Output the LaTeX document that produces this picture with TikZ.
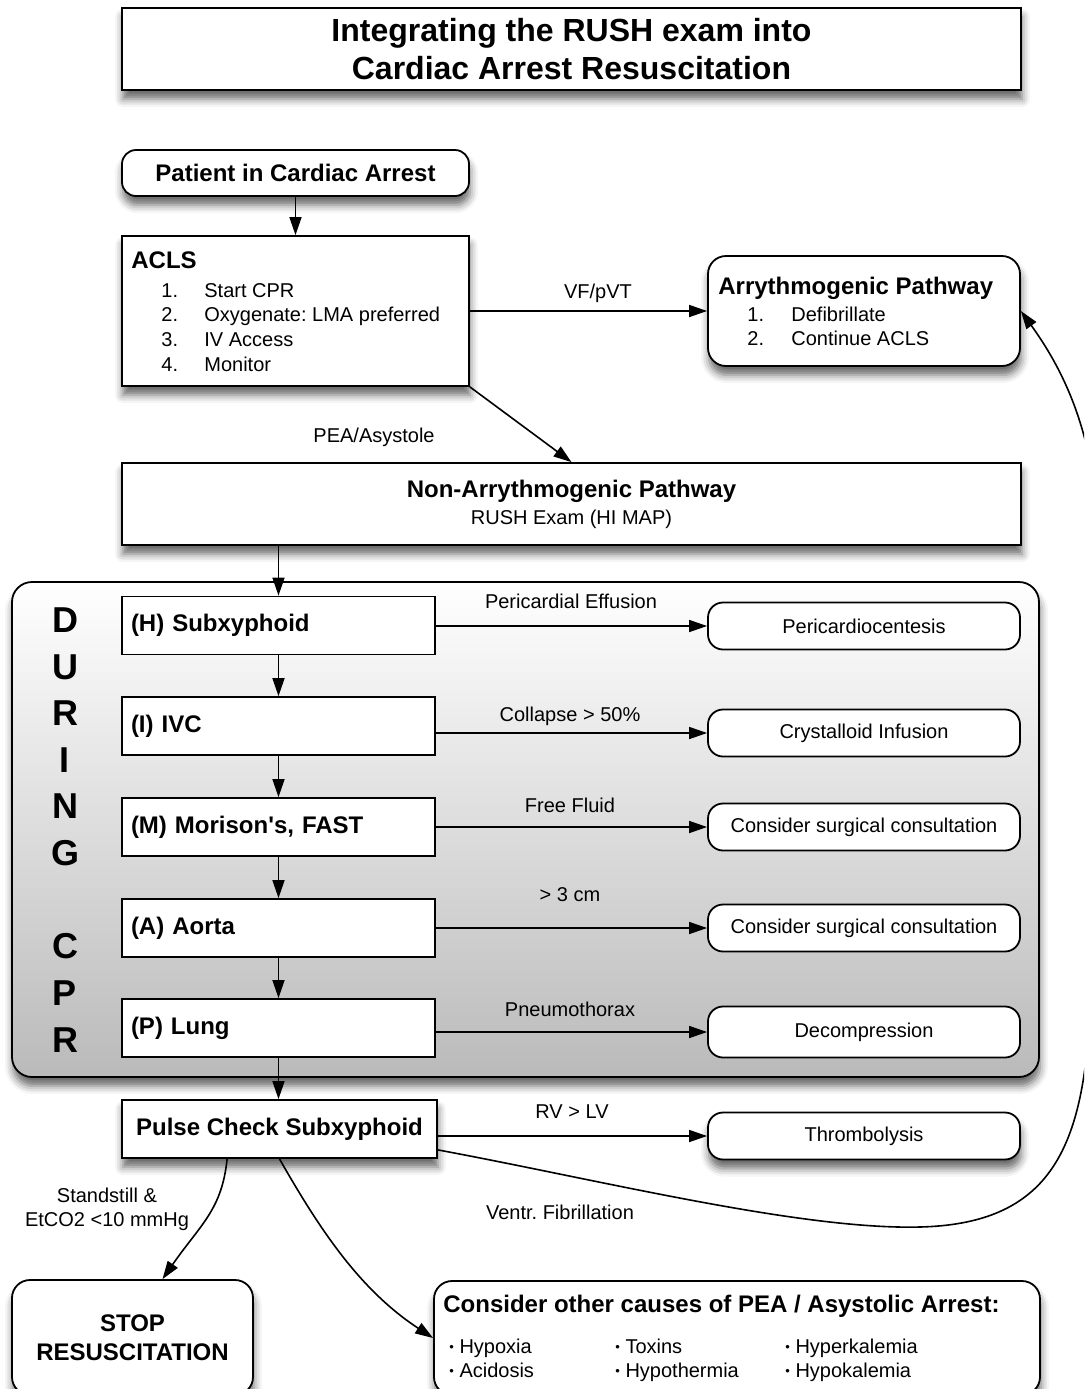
\documentclass[tikz,border=0pt]{standalone}
\usepackage{fontspec}
\setmainfont{Liberation Sans}
\usetikzlibrary{arrows.meta,calc,shadows.blur}
\newcommand{\bul}{\raisebox{0.6pt}{\fontsize{6.5}{7}\selectfont\textbullet}\ }

\begin{document}
\frenchspacing
\begin{tikzpicture}[x=0.5pt,y=-0.5pt,
  box/.style={draw,line width=0.9pt,fill=white,inner sep=0pt},
  shad/.style={blur shadow={shadow xshift=0.5pt,shadow yshift=-4.5pt,shadow blur radius=4pt,shadow opacity=60}},
  txt/.style={font=\fontsize{10}{12}\selectfont},
  hd/.style={font=\bfseries\fontsize{12}{14}\selectfont},
  lbl/.style={txt,inner sep=0pt},
  stepbox/.style={box,minimum height=29pt,text width=147.5pt,inner xsep=4.5pt,align=left,hd},
  sidebox/.style={box,rounded corners=7.5pt,minimum width=156pt,minimum height=23.5pt,txt},
  arr/.style={-{Triangle[length=9pt,width=6pt]},line width=0.8pt},
]
 	\useasboundingbox (0,0) rectangle (1084,1389);
 	\clip (0,0) rectangle (1084,1389);
 	% header
 	\node[box,shad,minimum width=449.5pt,minimum height=41pt,align=center,font=\bfseries\fontsize{16}{19}\selectfont] (title) at (571.5,49) {Integrating the RUSH exam into\\Cardiac Arrest Resuscitation};
 	\node[box,shad,rounded corners=7pt,minimum width=173.5pt,minimum height=23pt,hd] (patient) at (295.5,173) {Patient in Cardiac Arrest};
 	% ACLS
 	\node[box,shad,minimum width=173.5pt,minimum height=75pt] (acls) at (295.5,311) {};
 	\node[hd,anchor=base west,inner sep=0pt] (aclshd) at (131,268.5) {ACLS};
 	\foreach \n/\t [count=\i] in {1/Start CPR,2/Oxygenate: LMA preferred,3/IV Access,4/Monitor} {
 	  \node[lbl,anchor=base west] (aclsn\i) at (161,272.3+24.7*\i) {\n.};
 	  \node[lbl,anchor=base west] (aclst\i) at (204,272.3+24.7*\i) {\t};
 	}
 	\node[box,shad,rounded corners=9pt,minimum width=156pt,minimum height=55pt] (arrhy) at (864,311) {};
 	\node[hd,anchor=base west,inner sep=0pt] (arrhyhd) at (718,294.5) {Arrythmogenic Pathway};
 	\foreach \n/\t [count=\i] in {1/Defibrillate,2/Continue ACLS} {
 	  \node[lbl,anchor=base west] (arrhyn\i) at (747,297+24*\i) {\n.};
 	  \node[lbl,anchor=base west] (arrhyt\i) at (791,297+24*\i) {\t};
 	}
 	\node[box,shad,minimum width=449.5pt,minimum height=41pt,align=center,font=\fontsize{10}{13.5}\selectfont] (nonarrhy) at (571.5,504) {{\bfseries\fontsize{12}{13.5}\selectfont Non-Arrythmogenic Pathway}\\RUSH Exam (HI MAP)};
 	\draw[arr] (patient) -- (acls);
 	\draw[arr] (acls.east) -- (arrhy.west);
 	\node[lbl] (lbvf) at (598,293) {VF/pVT};
 	\draw[arr] (acls.south east) -- (nonarrhy.north);
 	\node[lbl] (lbpea) at (374,437) {PEA/Asystole};
 	% RUSH exam during CPR
 	\node[box,shad,rounded corners=10pt,minimum width=513.5pt,minimum height=247.5pt,top color=white,bottom color=black!27] (panel) at (525.5,829.5) {};
 	\foreach \c/\yy [count=\i] in {D/620,U/667,R/713,I/760,N/806,G/853,C/946,P/993,R/1040}
 	  \node[font=\bfseries\fontsize{18}{20}\selectfont,inner sep=0pt] (dur\i) at (65,\yy) {\c};
 	\node[stepbox] (hbx) at (278.5,625.5) {(H) Subxyphoid};
 	\node[stepbox] (ibx) at (278.5,726) {(I) IVC};
 	\node[stepbox] (mbx) at (278.5,827) {(M) Morison\textquotesingle s, FAST};
 	\node[stepbox] (abx) at (278.5,928) {(A) Aorta};
 	\node[stepbox] (pbx) at (278.5,1028) {(P) Lung};
 	\node[sidebox] (pericard) at (864,626) {Pericardiocentesis};
 	\node[sidebox] (crystal) at (864,733) {Crystalloid Infusion};
 	\node[sidebox] (surgm) at (864,827) {Consider surgical consultation};
 	\node[sidebox] (surga) at (864,928) {Consider surgical consultation};
 	\node[sidebox,minimum height=25.5pt] (decomp) at (864,1032) {Decompression};
 	\draw[arr] (hbx.north |- nonarrhy.south) -- (hbx.north);
 	\draw[arr] (hbx) -- (ibx);
 	\draw[arr] (ibx) -- (mbx);
 	\draw[arr] (mbx) -- (abx);
 	\draw[arr] (abx) -- (pbx);
 	\draw[arr] (hbx.east |- pericard.west) -- (pericard.west);
 	\draw[arr] (ibx.east |- crystal.west) -- (crystal.west);
 	\draw[arr] (mbx.east |- surgm.west) -- (surgm.west);
 	\draw[arr] (abx.east |- surga.west) -- (surga.west);
 	\draw[arr] (pbx.east |- decomp.west) -- (decomp.west);
 	\node[lbl] (lbh) at (571,601) {Pericardial Effusion};
 	\node[lbl] (lbi) at (570,716) {Collapse > 50\%};
 	\node[lbl] (lbm) at (570,805) {Free Fluid};
 	\node[lbl] (lba) at (570,895) {> 3 cm};
 	\node[lbl] (lbp) at (570,1009) {Pneumothorax};
 	% pulse check
 	\node[box,shad,minimum width=157.5pt,minimum height=29pt,hd] (pulse) at (279.5,1129) {Pulse Check Subxyphoid};
 	\node[box,shad,rounded corners=7.5pt,minimum width=156pt,minimum height=23.5pt,txt] (thromb) at (864,1136) {Thrombolysis};
 	\draw[arr] (pbx.south) -- (pbx.south |- pulse.north);
 	\draw[arr] (pulse.east |- thromb.west) -- (thromb.west);
 	\node[lbl] (lbrv) at (572,1112) {RV > LV};
 	\draw[arr] ($(pulse.south east)+(0,-9)$) .. controls (600,1180) and (800,1230) .. (920,1227) .. controls (1040,1224) and (1078,1160) .. (1088,1040) .. controls (1100,880) and (1102,720) .. (1100,600) .. controls (1102,480) and (1085,400) .. (arrhy.east);
 	\node[lbl] (lbvfib) at (560,1212) {Ventr. Fibrillation};
 	% outcomes
 	\node[box,shad,rounded corners=9pt,minimum width=120.5pt,minimum height=57.5pt,align=center,font=\bfseries\fontsize{12}{14.5}\selectfont] (stopres) at (132.5,1337.5) {STOP\\RESUSCITATION};
 	\node[box,shad,rounded corners=9pt,minimum width=303pt,minimum height=57pt] (other) at (737,1338) {};
 	\node[hd,anchor=base west,inner sep=0pt] (otherhd) at (443,1312.5) {Consider other causes of PEA / Asystolic Arrest:};
 	\node[lbl,anchor=base west] (c1) at (449,1353) {\bul Hypoxia};
 	\node[lbl,anchor=base west] (c2) at (449,1377) {\bul Acidosis};
 	\node[lbl,anchor=base west] (c3) at (615,1353) {\bul Toxins};
 	\node[lbl,anchor=base west] (c4) at (615,1377) {\bul Hypothermia};
 	\node[lbl,anchor=base west] (c5) at (785,1353) {\bul Hyperkalemia};
 	\node[lbl,anchor=base west] (c6) at (785,1377) {\bul Hypokalemia};
 	\draw[arr] ($(pulse.south west)+(106,0)$) .. controls (222,1210) and (200,1225) .. ($(stopres.north)+(30,0)$);
 	\node[lbl,align=center] (lbstand) at (107,1209) {Standstill \&\\EtCO2 <10 mmHg};
 	\draw[arr] (pulse.south) .. controls (320,1230) and (360,1290) .. (other.west);
\end{tikzpicture}
\end{document}
